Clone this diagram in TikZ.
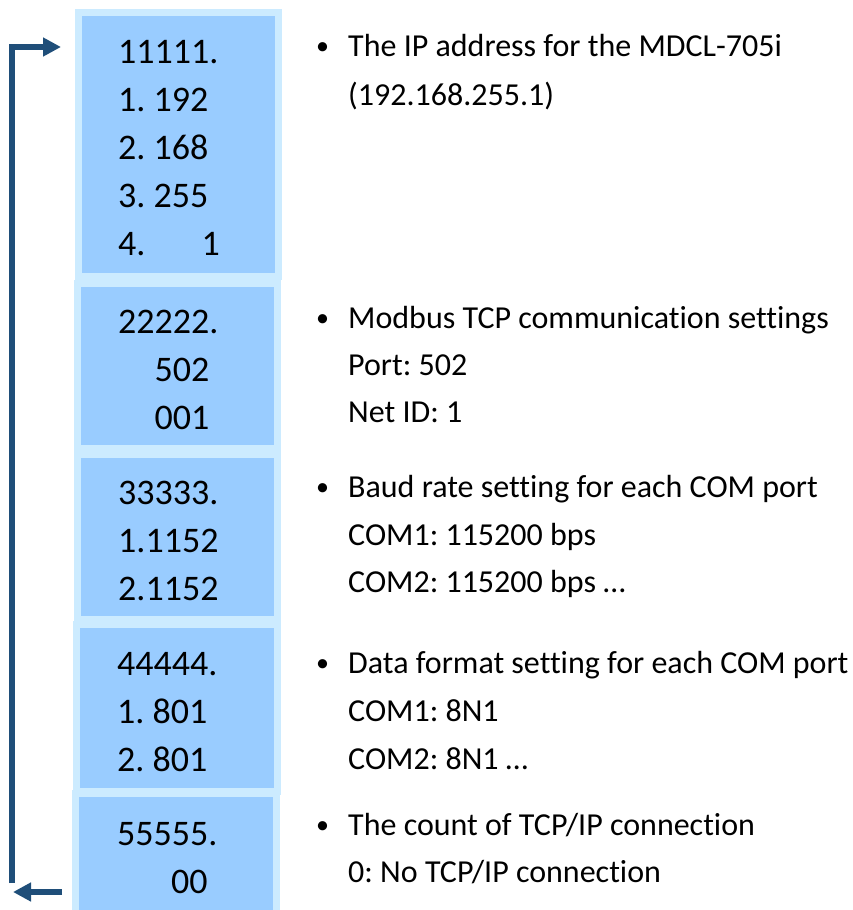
\documentclass[tikz,border=0pt]{standalone}
\usepackage{fontspec}
\setmainfont{Carlito}[Ligatures=NoCommon]
\frenchspacing
\usetikzlibrary{arrows.meta}

\definecolor{cellfill}{HTML}{99CCFF}
\definecolor{cellrim}{HTML}{CCEBFF}
\definecolor{loopblue}{HTML}{1F4E79}

\tikzset{
  cell/.style={draw=cellrim, fill=cellfill, line width=7pt, inner sep=0pt},
  num/.style={anchor=base west, inner sep=0pt, font=\fontsize{36}{40}\selectfont},
  note/.style={anchor=base west, inner sep=0pt, font=\fontsize{32}{36}\selectfont},
  flow/.style={draw=loopblue, line width=5.5pt, -{Triangle[length=18pt,width=18pt]}}
}

\begin{document}
\begin{tikzpicture}[x=1pt,y=-1pt]

\useasboundingbox (0,0) rectangle (853,910);
\clip (0,0) rectangle (853,910);

% the five cells
\node[cell, minimum width=200pt, minimum height=264pt] (c1) at (178.5,144.5) {};
\node[cell, minimum width=200pt, minimum height=165pt] (c2) at (177.5,366) {};
\node[cell, minimum width=200pt, minimum height=165pt] (c3) at (177.5,537) {};
\node[cell, minimum width=201pt, minimum height=167pt] (c4) at (177,708) {};
\node[cell, minimum width=201pt, minimum height=140pt] (c5) at (176,863.5) {};

\foreach \t [count=\i] in {11111., 1. 192, 2. 168, 3. 255, 4.\hspace{56pt}1}{
\node[num] (a\i) at (118,15+48*\i) {\t};}

\node[num] (b1) at (118,333) {22222.};
\node[num] (b2) at (154.5,381) {502};
\node[num] (b3) at (154.5,429) {001};

\foreach \t [count=\i] in {33333., 1.1152, 2.1152}{
\node[num] (d\i) at (118,456+48*\i) {\t};}

\foreach \t [count=\i] in {44444., 1. 801, 2. 801}{
\node[num] (e\i) at (117,627+48*\i) {\t};}

\node[num] (f1) at (117,845) {55555.};
\node[num] (f2) at (171,893) {00};

% notes
\foreach \y [count=\i] in {56,328,497,673,835}{
\node[note, font=\fontsize{26}{30}\selectfont] (dot\i) at (316,\y-2) {•};}

\node[note] (n11) at (348,56) {The IP address for the MDCL-705i};
\node[note] (n12) at (348,105) {(192.168.255.1)};

\node[note] (n21) at (348,328) {Modbus TCP communication settings};
\node[note] (n22) at (348,375) {Port: 502};
\node[note] (n23) at (348,422) {Net ID: 1};

\node[note] (n31) at (348,497) {Baud rate setting for each COM port};
\node[note] (n32) at (348,545) {COM1: 115200 bps};
\node[note] (n33) at (348,592) {COM2: 115200 bps …};

\node[note] (n41) at (348,673) {Data format setting for each COM port};
\node[note] (n42) at (348,721) {COM1: 8N1};
\node[note] (n43) at (348,769) {COM2: 8N1 …};

\node[note] (n51) at (348,835) {The count of TCP/IP connection};
\node[note] (n52) at (348,882) {0: No TCP/IP connection};

% loop arrows
\coordinate (up0) at (12,883);
\coordinate (up1) at (12,47);
\coordinate (in1) at (61,47);
\draw[flow] (up0) -- (up1) -- (in1);

\coordinate (out0) at (62,892);
\coordinate (out1) at (13,892);
\draw[flow] (out0) -- (out1);

\end{tikzpicture}
\end{document}
